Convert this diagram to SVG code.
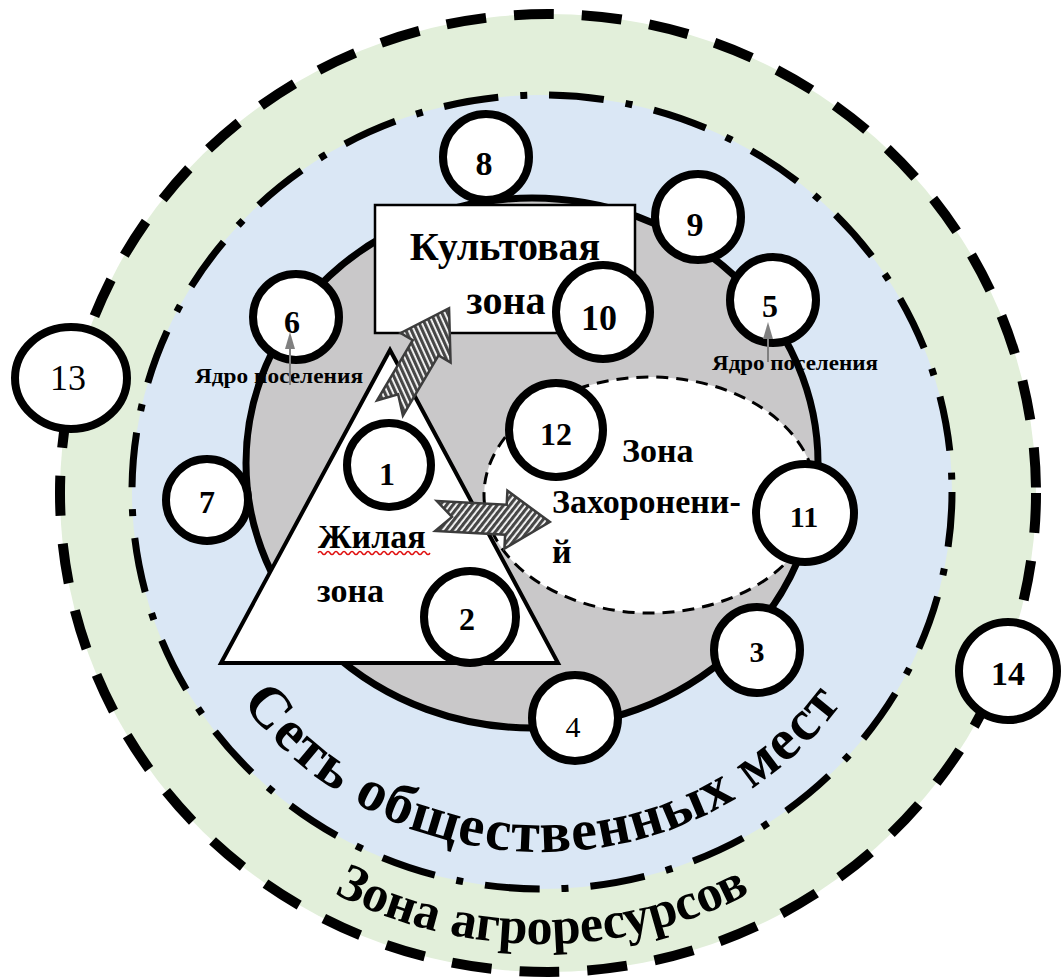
<svg xmlns="http://www.w3.org/2000/svg" width="1062" height="978" viewBox="0 0 1062 978">
<style>
.num{font-family:"Liberation Serif","Times New Roman",serif;font-weight:bold;text-anchor:middle;fill:#000}
.nc{fill:#fff;stroke:#000;stroke-width:8}
.lbl{font-family:"Liberation Serif","Times New Roman",serif;font-weight:bold;fill:#000}
.ring{font-family:"Liberation Serif","Times New Roman",serif;font-weight:bold;fill:#000}
.hatch{fill:url(#hp);stroke:#3c3c3c;stroke-width:2.5;stroke-linejoin:miter}
</style>
<defs>
<pattern id="hp" width="5" height="5" patternUnits="userSpaceOnUse" patternTransform="rotate(35)">
<rect width="5" height="5" fill="#ffffff"/>
<rect width="3.2" height="5" fill="#474747"/>
</pattern>
<path id="arcA" d="M 172,492 A 370 360 0 0 0 912,492"/>
<path id="arcB" d="M 90,492 A 452 452 0 0 0 994,492"/>
</defs>
<rect width="1062" height="978" fill="#fff"/>
<g id="zone-agro">
<ellipse cx="548" cy="493" rx="488" ry="479" fill="#e2efda" stroke="#000" stroke-width="10" stroke-dasharray="40 28"/>
</g>
<g id="zone-public">
<ellipse cx="542" cy="492" rx="410" ry="397" fill="#dae7f5" stroke="#000" stroke-width="7" stroke-dasharray="55 22 7 22"/>
</g>
<g id="core">
<ellipse cx="532" cy="463" rx="286" ry="265" fill="#c9c8c9" stroke="#000" stroke-width="7"/>
</g>
<g id="cult-zone">
<rect x="375" y="205" width="260" height="128" fill="#fff" stroke="#000" stroke-width="2.5"/>
<text class="lbl" x="505" y="260" font-size="40" text-anchor="middle">Культовая</text>
<text class="lbl" x="506" y="314" font-size="40" text-anchor="middle">зона</text>
</g>
<g id="burial-zone">
<ellipse cx="650" cy="495" rx="166" ry="118" fill="#fff" stroke="#000" stroke-width="3" stroke-dasharray="12 8"/>
<text class="lbl" x="622" y="462" font-size="34">Зона</text>
<text class="lbl" x="552" y="513" font-size="34">Захоронени-</text>
<text class="lbl" x="552" y="563" font-size="34">й</text>
</g>
<g id="living-zone">
<polygon points="390,350 221,663 558,663" fill="#fff" stroke="#000" stroke-width="4" stroke-linejoin="miter"/>
<text class="lbl" x="318" y="548" font-size="34">Жилая</text>
<path d="M318,553 q2,-3 4,0 t4,0 t4,0 t4,0 t4,0 t4,0 t4,0 t4,0 t4,0 t4,0 t4,0 t4,0 t4,0 t4,0 t4,0 t4,0 t4,0 t4,0 t4,0 t4,0 t4,0 t4,0 t4,0 t4,0 t4,0 t4,0 t4,0 t4,0" fill="none" stroke="#e01010" stroke-width="1.5"/>
<text class="lbl" x="317" y="602" font-size="34">зона</text>
</g>
<g id="n8"><circle class="nc" cx="486" cy="157" r="43"/><text class="num" x="484" y="175" font-size="34">8</text></g>
<g id="n9"><circle class="nc" cx="698" cy="217" r="43"/><text class="num" x="695" y="236" font-size="34">9</text></g>
<g id="n10"><circle class="nc" cx="603" cy="312" r="47"/><text class="num" x="599" y="330" font-size="36">10</text></g>
<g id="n6"><circle class="nc" cx="296" cy="317" r="43"/><text class="num" x="292" y="333" font-size="32">6</text></g>
<g id="n5"><circle class="nc" cx="773" cy="300" r="43"/><text class="num" x="770" y="317" font-size="32">5</text></g>
<g id="n13"><ellipse class="nc" cx="71" cy="378" rx="56" ry="51"/><text class="num" x="68" y="390" font-size="36" style="font-weight:normal">13</text></g>
<g id="n7"><circle class="nc" cx="207" cy="500" r="41"/><text class="num" x="207" y="513" font-size="32">7</text></g>
<g id="n1"><circle class="nc" cx="389" cy="465" r="42"/><text class="num" x="387" y="485" font-size="32">1</text></g>
<g id="n12"><circle class="nc" cx="556" cy="430" r="47"/><text class="num" x="556" y="445" font-size="32">12</text></g>
<g id="n11"><circle class="nc" cx="805" cy="513" r="49"/><text class="num" x="804" y="527" font-size="30">11</text></g>
<g id="n2"><circle class="nc" cx="470" cy="617" r="46"/><text class="num" x="467" y="630" font-size="32">2</text></g>
<g id="n3"><circle class="nc" cx="757" cy="650" r="43"/><text class="num" x="757" y="662" font-size="30">3</text></g>
<g id="n4"><circle class="nc" cx="575" cy="718" r="43"/><text class="num" x="573" y="737" font-size="30" style="font-weight:normal">4</text></g>
<g id="n14"><circle class="nc" cx="1008" cy="671" r="49"/><text class="num" x="1008" y="685" font-size="34">14</text></g>
<g id="connectors">
<path class="hatch" transform="translate(390,408) rotate(-59.4)" d="M0,-15 L70,-15 L70,-29 L116,0 L70,29 L70,15 L0,15 L16,0 Z"/>
<path class="hatch" transform="translate(436,516) rotate(3)" d="M0,-15 L70,-15 L70,-29 L114,0 L70,29 L70,15 L0,15 L16,0 Z"/>
</g>
<g id="label-core-left">
<text class="lbl" x="195" y="383" font-size="22" textLength="168" lengthAdjust="spacingAndGlyphs">Ядро поселения</text>
<line x1="290" y1="385" x2="290" y2="345" stroke="#808080" stroke-width="2"/>
<polygon points="290,332 285,349 295,349" fill="#808080"/>
</g>
<g id="label-core-right">
<text class="lbl" x="712" y="370" font-size="22" textLength="166" lengthAdjust="spacingAndGlyphs">Ядро поселения</text>
<line x1="768" y1="362" x2="768" y2="335" stroke="#808080" stroke-width="2"/>
<polygon points="768,322 763,339 773,339" fill="#808080"/>
</g>
<g id="ring-labels">
<text class="ring" font-size="58" letter-spacing="1.5" text-anchor="middle"><textPath href="#arcA" startOffset="50%">Сеть общественных мест</textPath></text>
<text class="ring" font-size="52" text-anchor="middle"><textPath href="#arcB" startOffset="50%">Зона агроресурсов</textPath></text>
</g>
</svg>
